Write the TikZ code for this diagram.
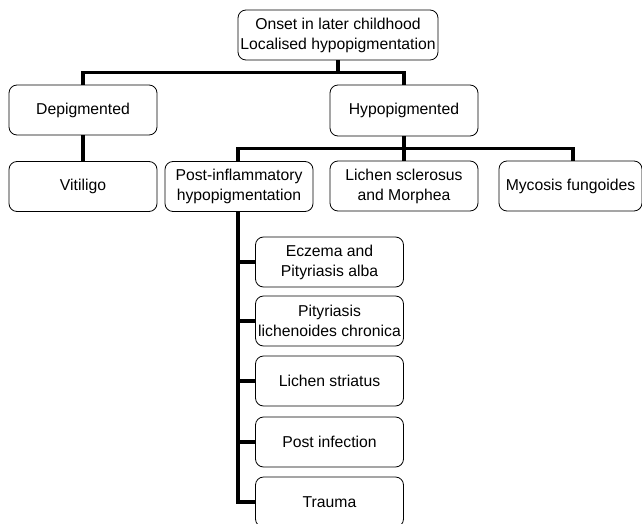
\documentclass[tikz,border=0pt]{standalone}
\usepackage{fontspec}
\setmainfont{Liberation Sans}
\usepackage{tikz}
\usetikzlibrary{positioning}
\tikzset{box/.style={draw, rectangle, rounded corners=8bp, line width=0.8bp, minimum width=148bp, minimum height=50bp, inner sep=1bp, align=center, font=\fontsize{15.8}{20}\selectfont},
  link/.style={line width=3.2bp, line join=miter}}

\begin{document}
\begin{tikzpicture}[line join=bevel,]
\useasboundingbox (0bp,0bp) rectangle (642bp,-524bp);
\clip (0bp,0bp) rectangle (642bp,-524bp);
%%
\node (onset) at (338.0bp,-35.0bp) [box,minimum width=200bp] {Onset in later childhood\\Localised hypopigmentation};
  \node (depig) at (83.0bp,-110.0bp) [box] {Depigmented};
  \node (hypo) at (404.0bp,-110.5bp) [box,minimum height=51bp] {Hypopigmented};
  \node (vitiligo) at (83.0bp,-186.5bp) [box] {Vitiligo};
  \node (postinf) at (239.0bp,-186.5bp) [box] {Post-inflammatory\\hypopigmentation};
  \node (lichen) at (404.0bp,-186.0bp) [box] {Lichen sclerosus\\and Morphea};
  \node (myco) at (570.5bp,-186.0bp) [box,minimum width=143bp] {Mycosis fungoides};
  \node (eczema) at (329.5bp,-262.0bp) [box] {Eczema and\\Pityriasis alba};
  \node (pityr) at (329.5bp,-321.0bp) [box] {Pityriasis\\lichenoides chronica};
  \node (striatus) at (329.5bp,-381.0bp) [box] {Lichen striatus};
  \node (postinfec) at (329.5bp,-442.0bp) [box] {Post infection};
  \node (trauma) at (329.5bp,-502.0bp) [box] {Trauma};
  \draw [link] (onset.south) -- ++(0,-12bp) -| (depig.north);
  \draw [link] (onset.south) -- ++(0,-12bp) -| (hypo.north);
  \draw [link] (depig.south) -- (vitiligo.north);
  \draw [link] (hypo.south) -- ++(0,-12bp) -| ([xshift=-1bp]postinf.north);
  \draw [link] (hypo.south) -- (lichen.north);
  \draw [link] (hypo.south) -- ++(0,-12bp) -| ([xshift=2.5bp]myco.north);
  \draw [link] ([xshift=-1bp]postinf.south) |- (trauma.west);
  \draw [link] ([xshift=-1bp]postinf.south |- eczema.west) -- (eczema.west);
  \draw [link] ([xshift=-1bp]postinf.south |- pityr.west) -- (pityr.west);
  \draw [link] ([xshift=-1bp]postinf.south |- striatus.west) -- (striatus.west);
  \draw [link] ([xshift=-1bp]postinf.south |- postinfec.west) -- (postinfec.west);
%
\end{tikzpicture}
\end{document}
